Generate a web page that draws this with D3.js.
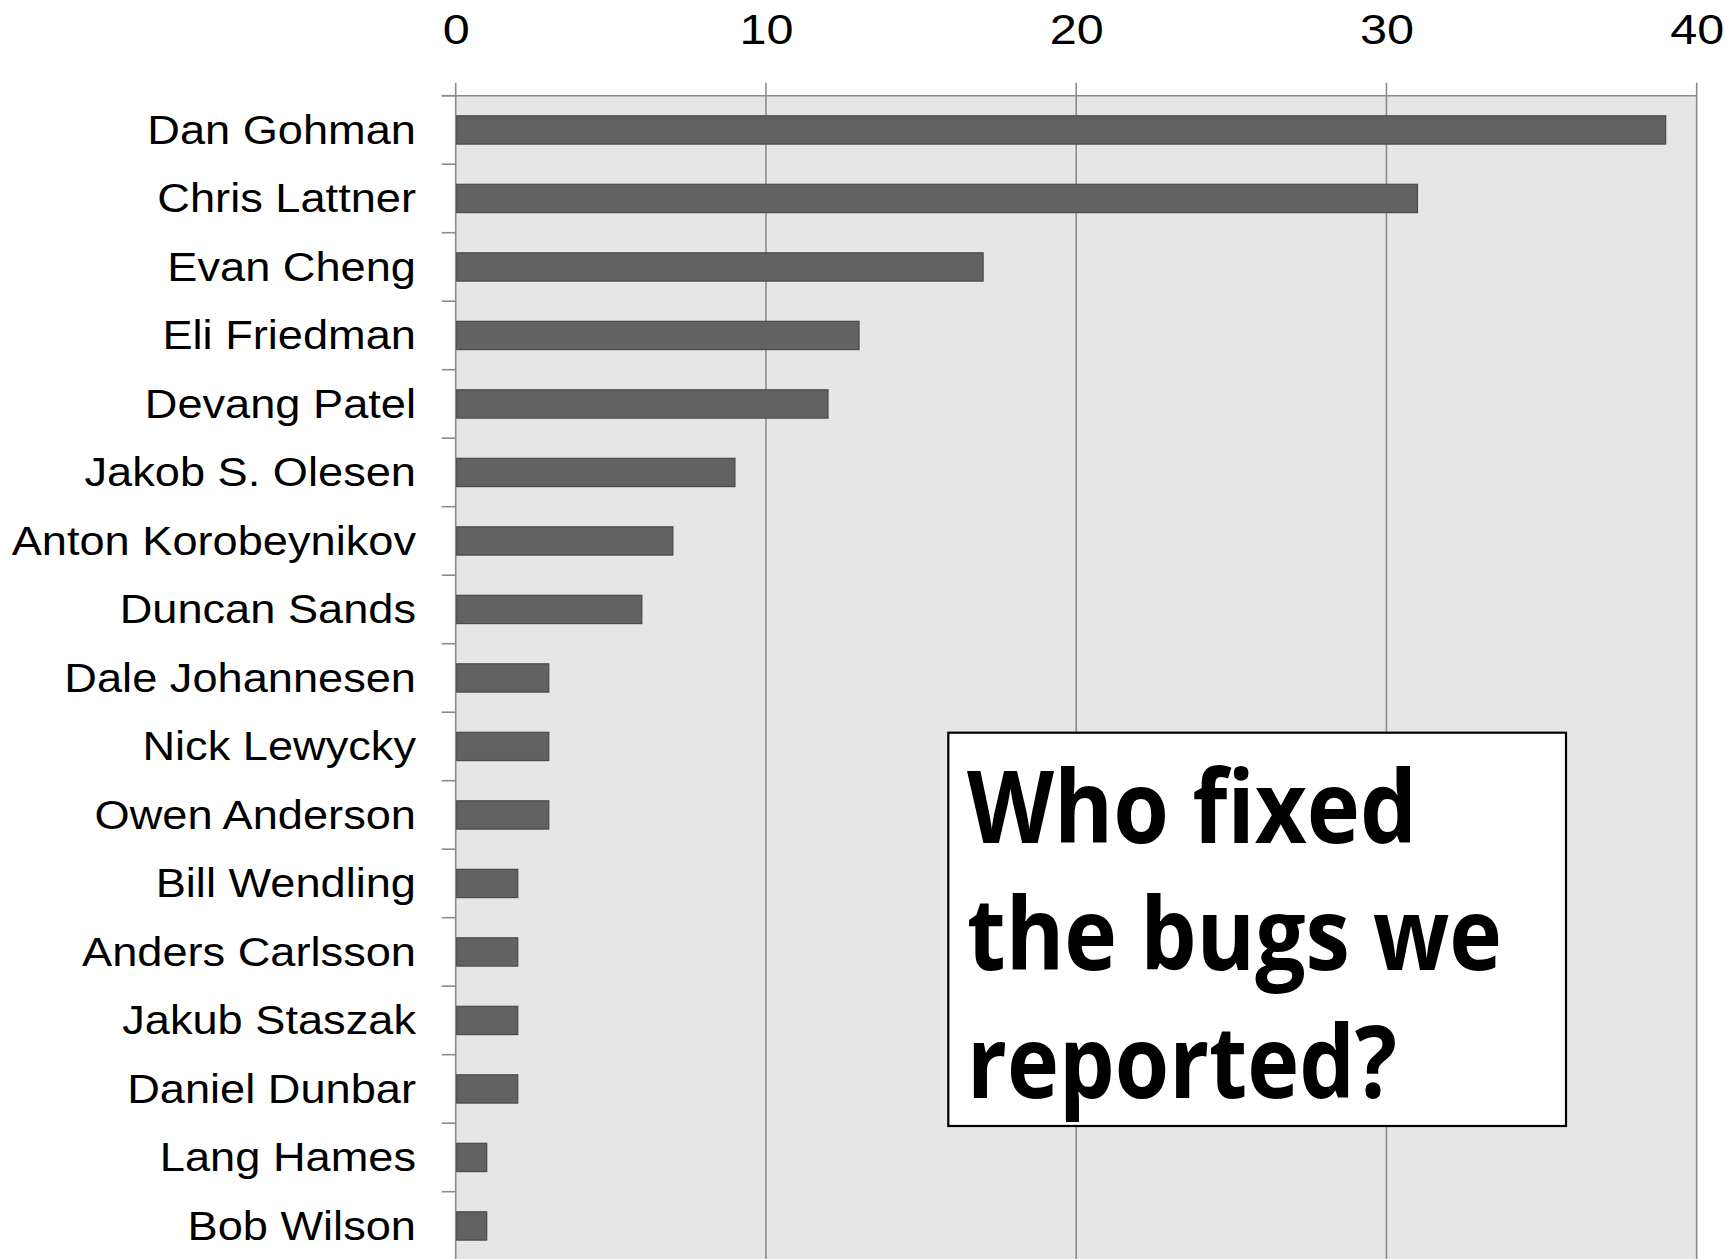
<!DOCTYPE html>
<html>
<head>
<meta charset="utf-8">
<script src="https://cdn.jsdelivr.net/npm/d3@7"></script>
<style>
  html, body { margin: 0; padding: 0; background: #ffffff; }
  svg { display: block; }
</style>
</head>
<body>
<svg id="chart" width="1725" height="1259"></svg>
<script>
// Bugs fixed per developer
const developers = [
  "Dan Gohman", "Chris Lattner", "Evan Cheng", "Eli Friedman", "Devang Patel",
  "Jakob S. Olesen", "Anton Korobeynikov", "Duncan Sands", "Dale Johannesen",
  "Nick Lewycky", "Owen Anderson", "Bill Wendling", "Anders Carlsson",
  "Jakub Staszak", "Daniel Dunbar", "Lang Hames", "Bob Wilson"
];
const bugsFixed = [39, 31, 17, 13, 12, 9, 7, 6, 3, 3, 3, 2, 2, 2, 2, 1, 1];
const xTicks = [0, 10, 20, 30, 40];
const titleLines = ["Who fixed", "the bugs we", "reported?"];

(function draw() {
  const svg = d3.select("#chart");

  const plotLeft = 455.7, plotRight = 1696.7, plotTop = 95.7, step = 68.5;
  const plotBottom = plotTop + step * developers.length;
  const stretch = 1.13; // labels are set slightly wide

  const x = d3.scaleLinear().domain([0, 40]).range([plotLeft, plotRight]);
  const pad = 0.587;
  const y = d3.scaleBand()
    .domain(developers)
    .range([plotTop, plotBottom])
    .paddingInner(pad)
    .paddingOuter(pad / 2);

  const gridColor = "#8c8c8c";

  // plot background
  svg.append("rect")
    .attr("x", plotLeft).attr("y", plotTop)
    .attr("width", plotRight - plotLeft).attr("height", plotBottom - plotTop)
    .attr("fill", "#e6e6e6");

  // vertical gridlines (extend a little above the plot as tick marks)
  svg.append("g").selectAll("line")
    .data(xTicks)
    .join("line")
    .attr("x1", d => x(d)).attr("x2", d => x(d))
    .attr("y1", plotTop - 13).attr("y2", plotBottom)
    .attr("stroke", gridColor).attr("stroke-width", 1.6);

  // top border of plot
  svg.append("line")
    .attr("x1", plotLeft - 14).attr("x2", plotRight)
    .attr("y1", plotTop).attr("y2", plotTop)
    .attr("stroke", gridColor).attr("stroke-width", 1.6);

  // category tick marks at band boundaries
  const boundaries = developers.map((d, i) => plotTop + i * step);
  svg.append("g").selectAll("line")
    .data(boundaries)
    .join("line")
    .attr("x1", plotLeft - 14).attr("x2", plotLeft)
    .attr("y1", d => d).attr("y2", d => d)
    .attr("stroke", gridColor).attr("stroke-width", 1.6);

  // top axis labels
  const xAxis = d3.axisTop(x).tickValues(xTicks).tickSize(0).tickPadding(0);
  const gx = svg.append("g")
    .attr("transform", "translate(0, 44.3)")
    .call(xAxis);
  gx.select(".domain").remove();
  gx.selectAll("text")
    .attr("dy", "0")
    .attr("transform", `scale(${stretch},1)`)
    .attr("font-family", "'Liberation Sans', Arial, sans-serif")
    .attr("font-size", 43)
    .attr("fill", "#000");

  // bars
  svg.append("g").selectAll("rect")
    .data(developers.map((d, i) => ({ name: d, value: bugsFixed[i] })))
    .join("rect")
    .attr("x", x(0) + 1)
    .attr("y", d => y(d.name))
    .attr("width", d => x(d.value) - x(0) - 1)
    .attr("height", y.bandwidth())
    .attr("fill", "#626262")
    .attr("stroke", "#4a4a4a")
    .attr("stroke-width", 1.2);

  // category labels
  svg.append("g").selectAll("text")
    .data(developers)
    .join("text")
    .attr("transform", d => `translate(416,${y(d) + y.bandwidth() / 2}) scale(${stretch},1)`)
    .attr("dy", "0.35em")
    .attr("text-anchor", "end")
    .attr("font-family", "'Liberation Sans', Arial, sans-serif")
    .attr("font-size", 40)
    .attr("fill", "#000")
    .text(d => d);

  // title box
  svg.append("rect")
    .attr("x", 948.3).attr("y", 732.7)
    .attr("width", 617.7).attr("height", 393.3)
    .attr("fill", "#ffffff")
    .attr("stroke", "#000").attr("stroke-width", 2.2);

  const lineWidths = [450, 535, 430];
  const baselines = [842.7, 970, 1098.3];
  svg.append("g").selectAll("text")
    .data(titleLines)
    .join("text")
    .attr("x", 967)
    .attr("y", (d, i) => baselines[i])
    .attr("textLength", (d, i) => lineWidths[i])
    .attr("lengthAdjust", "spacingAndGlyphs")
    .attr("font-family", "'Open Sans', 'Noto Sans', sans-serif")
    .attr("font-weight", 700)
    .attr("font-size", 101)
    .attr("fill", "#000")
    .text(d => d);
})();
</script>
</body>
</html>
